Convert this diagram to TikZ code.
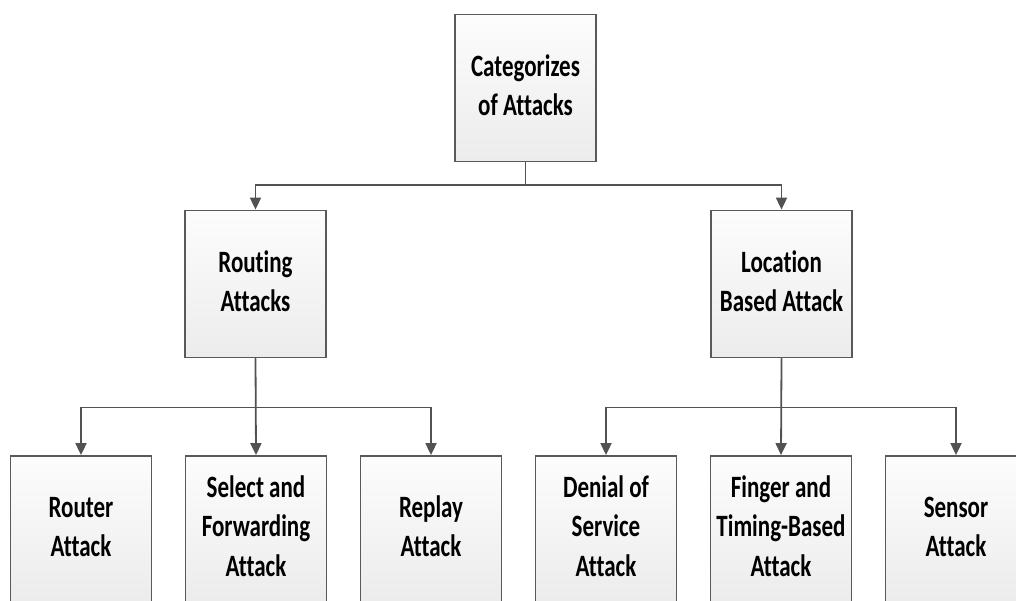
\documentclass[tikz,border=0pt]{standalone}
\usepackage{fontspec}
\setmainfont[Ligatures=NoCommon]{Carlito}
\usepackage{graphicx}
\usetikzlibrary{arrows.meta}

\newcommand{\boxlines}[1]{\scalebox{1}[1.35]{\fontsize{23}{29.6}\selectfont\bfseries\begin{tabular}{@{}c@{}}#1\end{tabular}}}

\begin{document}
\begin{tikzpicture}[x=1pt, y=-1pt,
		attackbox/.style={draw=black!65, line width=1.8pt, top color=gray!2, bottom color=gray!15, minimum width=141pt, minimum height=147pt, inner sep=0pt},
		leafbox/.style={attackbox, minimum height=146pt},
		conn/.style={draw=black!68, line width=1.8pt, -{Triangle[width=11pt, length=12pt]}}]
		\clip (0, 0) rectangle (1016, 601);
		
		\node[attackbox] (cat) at (525.5, 88) {\boxlines{Categorizes\\of Attacks}};
		
		\node[attackbox] (route) at (255.5, 284) {\boxlines{Routing\\Attacks}};
		\node[attackbox] (loc) at (781.5, 284) {\boxlines{Location\\Based Attack}};
		
		\node[leafbox] (router) at (81, 529) {\boxlines{Router\\Attack}};
		\node[leafbox] (select) at (256, 529) {\boxlines{Select and\\Forwarding\\Attack}};
		\node[leafbox] (replay) at (431, 529) {\boxlines{Replay\\Attack}};
		\node[leafbox] (dos) at (606, 529) {\boxlines{Denial of\\Service\\Attack}};
		\node[leafbox] (finger) at (781, 529) {\boxlines{Finger and\\Timing-Based\\Attack}};
		\node[leafbox] (sensor) at (956, 529) {\boxlines{Sensor\\Attack}};
		
		\draw[conn] (cat.south) -- ++(0, 23) -| (route.north);
		\draw[conn] (cat.south) -- ++(0, 23) -| (loc.north);
		
		\draw[conn] (route.south) -- ++(0, 49) -| (router.north);
		\draw[conn] (route.south) -- (select.north);
		\draw[conn] (route.south) -- ++(0, 49) -| (replay.north);
		
		\draw[conn] (loc.south) -- ++(0, 49) -| (dos.north);
		\draw[conn] (loc.south) -- (finger.north);
		\draw[conn] (loc.south) -- ++(0, 49) -| (sensor.north);
	\end{tikzpicture}
\end{document}
